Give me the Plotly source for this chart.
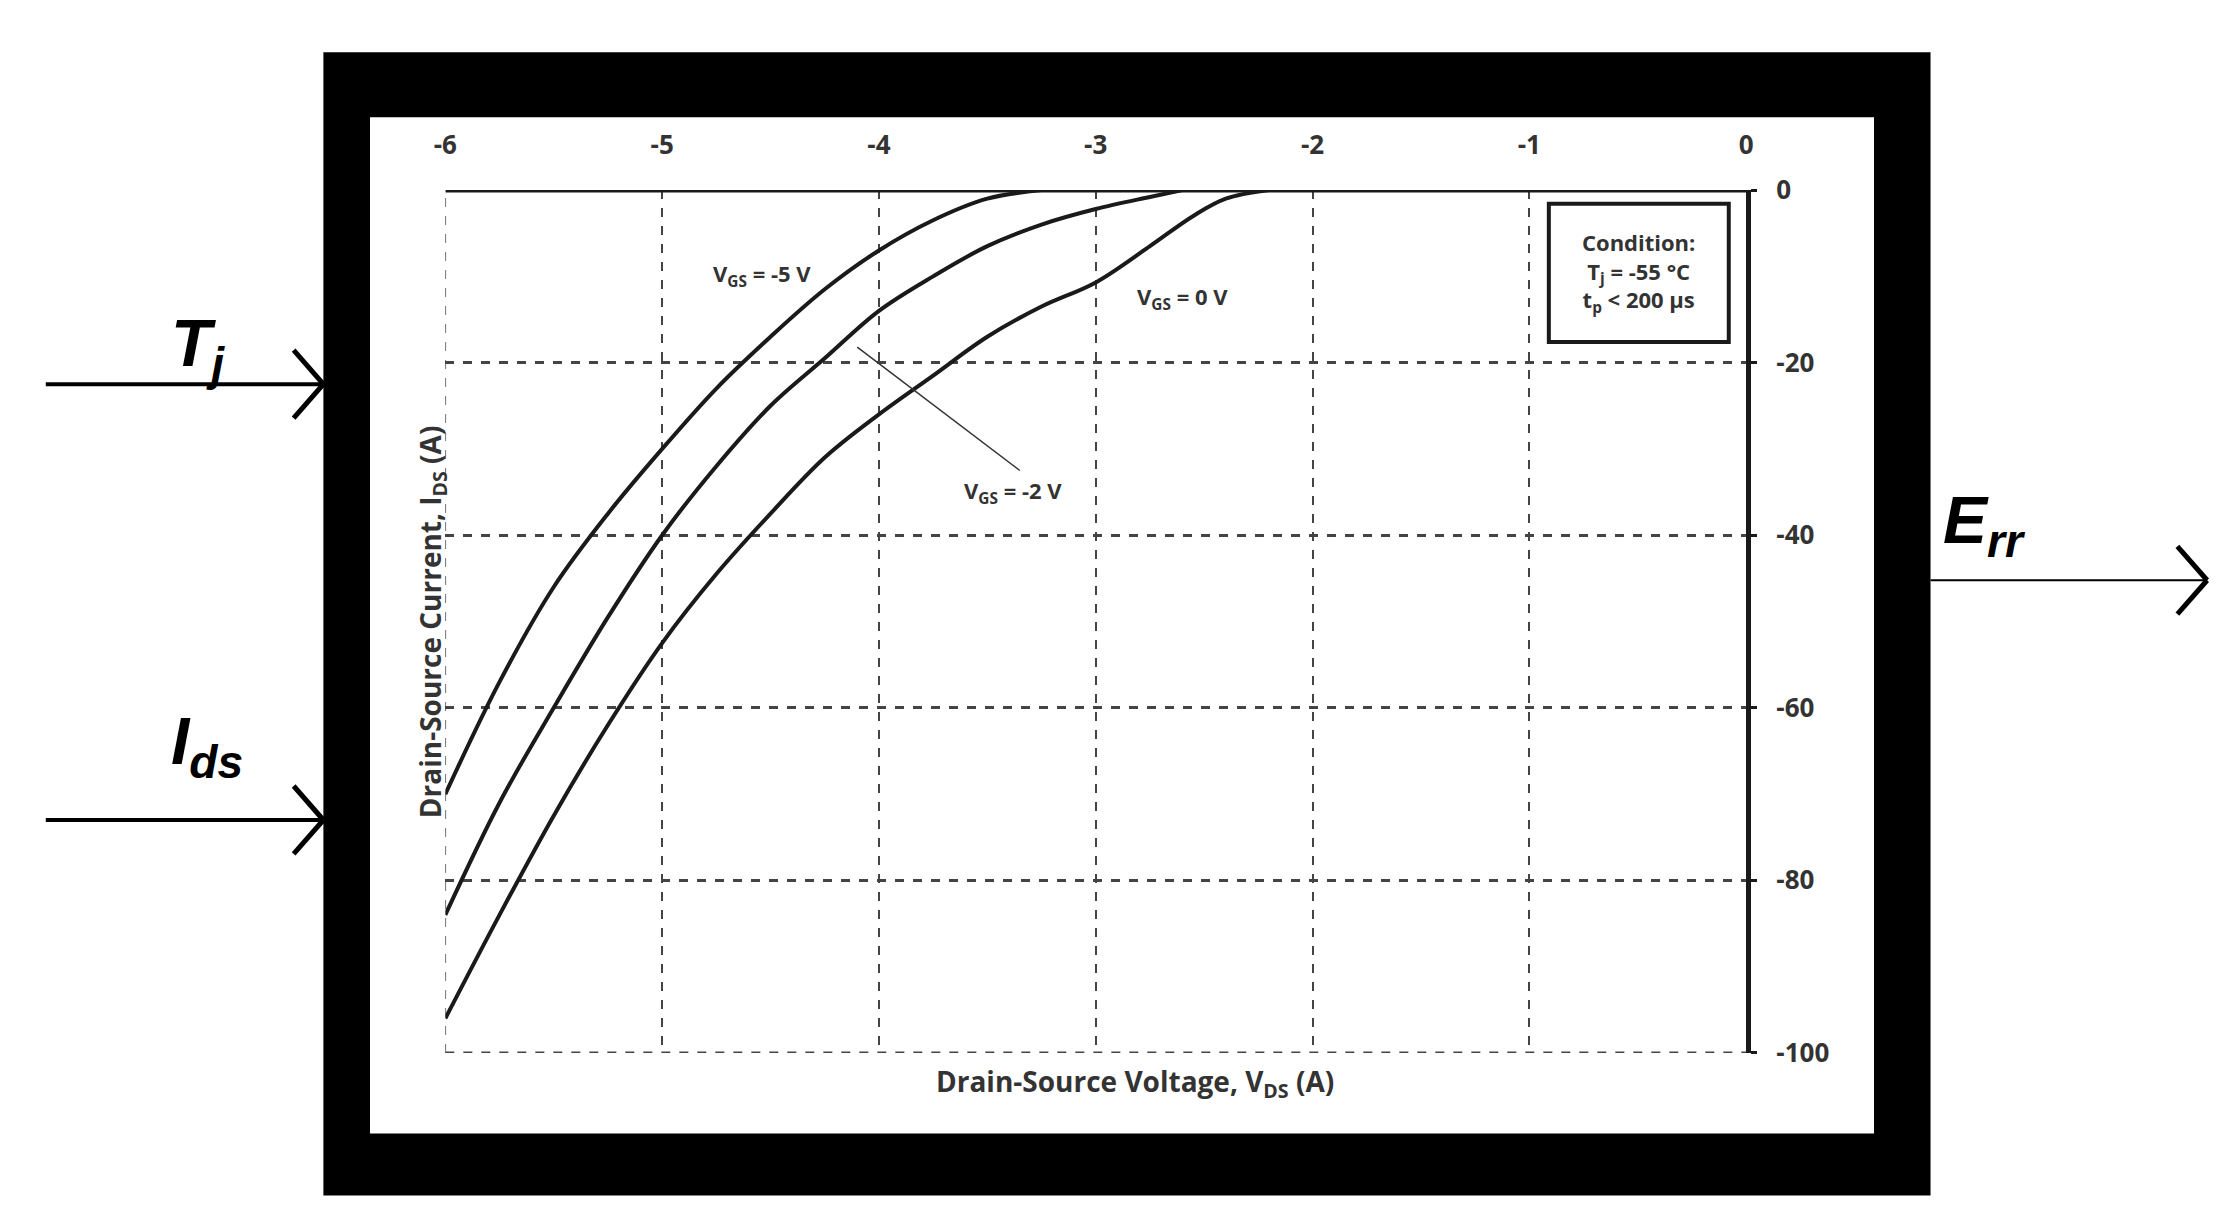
import plotly.graph_objects as go

v_m5 = [-6, -5.75, -5.5, -5.25, -5, -4.75, -4.5, -4.25, -4, -3.75, -3.5, -3.25]
i_m5 = [-70, -57, -46, -37.5, -30, -23, -17, -11.5, -7, -3.5, -1, 0]
v_m2 = [-6, -5.75, -5.5, -5.25, -5, -4.75, -4.5, -4.25, -4, -3.75, -3.5, -3.25, -3, -2.75, -2.6]
i_m2 = [-84, -71, -60, -49.5, -40, -32, -25, -19.5, -14, -10, -6.5, -4, -2.2, -0.8, 0]
v_0 = [-6, -5.75, -5.5, -5.25, -5, -4.75, -4.5, -4.25, -4, -3.75, -3.5, -3.25, -3, -2.75, -2.55, -2.4, -2.2]
i_0 = [-96, -84, -72.5, -62, -52.5, -44.5, -37.5, -31, -26, -21.5, -17, -13.5, -10.7, -6.5, -3, -1, 0]
x_ticks = [-6, -5, -4, -3, -2, -1, 0]
y_ticks = [0, -20, -40, -60, -80, -100]

W, H = 2223, 1225
def px(x): return x / W
def py(y): return 1 - y / H

FONT = "Open Sans"
fig = go.Figure()
for v, i in [(v_m5, i_m5), (v_m2, i_m2), (v_0, i_0)]:
    fig.add_trace(go.Scatter(x=v, y=i, mode="lines", line=dict(color="#1a1a1a", width=4, shape="spline"),
                             showlegend=False, hoverinfo="skip"))
fig.add_trace(go.Scatter(x=[-6, 0], y=[0, 0], mode="lines", line=dict(color="#1a1a1a", width=5),
                         showlegend=False, hoverinfo="skip"))

shapes = [
    dict(type="rect", xref="paper", yref="paper", x0=px(306), x1=px(1927), y0=py(1204), y1=py(26),
         fillcolor="black", line=dict(width=0), layer="below"),
    dict(type="rect", xref="paper", yref="paper", x0=px(353), x1=px(1870), y0=py(1140), y1=py(93),
         fillcolor="white", line=dict(width=0), layer="below"),
    dict(type="line", xref="x", yref="y", x0=-6, x1=-6, y0=-100, y1=0,
         line=dict(color="#444", width=1.5, dash="dash")),
    dict(type="line", xref="x", yref="y", x0=-6, x1=0, y0=-100, y1=-100,
         line=dict(color="#444", width=3, dash="dash")),
    dict(type="rect", xref="x", yref="y", x0=-0.91, x1=-0.08, y0=-17.6, y1=-1.6,
         fillcolor="white", line=dict(color="#1a1a1a", width=4)),
    dict(type="line", xref="x", yref="y", x0=-3.35, y0=-32.5, x1=-4.1, y1=-18.2,
         line=dict(color="#333", width=1.5)),
]
arrows = [(26, 306, 368), (26, 306, 817), (1927, 2206, 570)]
for x0, x1, y in arrows:
    shapes.append(dict(type="line", xref="paper", yref="paper", x0=px(x0), x1=px(x1), y0=py(y), y1=py(y),
                       line=dict(color="black", width=4 if x0 < 100 else 2)))
    shapes.append(dict(type="line", xref="paper", yref="paper", x0=px(x1 - 30), x1=px(x1), y0=py(y - 35), y1=py(y),
                       line=dict(color="black", width=5)))
    shapes.append(dict(type="line", xref="paper", yref="paper", x0=px(x1 - 30), x1=px(x1), y0=py(y + 35), y1=py(y),
                       line=dict(color="black", width=5)))

ann = [
    dict(x=-4.54, y=-9.9, text="<b>V<sub>GS</sub> = -5 V</b>", showarrow=False, xref="x", yref="y",
         font=dict(size=22, family=FONT, color="#333")),
    dict(x=-2.6, y=-12.5, text="<b>V<sub>GS</sub> = 0 V</b>", showarrow=False, xref="x", yref="y",
         font=dict(size=22, family=FONT, color="#333")),
    dict(x=-3.38, y=-35, text="<b>V<sub>GS</sub> = -2 V</b>", showarrow=False, xref="x", yref="y",
         font=dict(size=22, family=FONT, color="#333")),
    dict(x=-0.495, y=-9.6, text="<b>Condition:</b><br><b>T<sub>j</sub> = -55 °C</b><br><b>t<sub>p</sub> &lt; 200 µs</b>",
         showarrow=False, xref="x", yref="y", font=dict(size=22, family=FONT, color="#333")),
    dict(x=px(392), y=0.5, xref="paper", yref="paper", text="<b>Drain-Source Current, I<sub>DS</sub> (A)</b>",
         textangle=-90, showarrow=False, font=dict(size=28, family=FONT, color="#333")),
    dict(x=px(1125), y=py(1112), xref="paper", yref="paper", text="<b>Drain-Source Voltage, V<sub>DS</sub> (A)</b>",
         showarrow=False, font=dict(size=28, family=FONT, color="#333")),
    dict(x=px(150), y=py(285), xref="paper", yref="paper", text="<b><i>T<sub>j</sub></i></b>",
         showarrow=False, font=dict(size=66, family="Liberation Sans", color="black")),
    dict(x=px(150), y=py(741), xref="paper", yref="paper", text="<b><i>I<sub>ds</sub></i></b>",
         showarrow=False, font=dict(size=66, family="Liberation Sans", color="black")),
    dict(x=px(2025), y=py(513), xref="paper", yref="paper", text="<b><i>E<sub>rr</sub></i></b>",
         showarrow=False, font=dict(size=66, family="Liberation Sans", color="black")),
]

fig.update_layout(
    width=W, height=H, margin=dict(l=0, r=0, t=0, b=0),
    paper_bgcolor="white", plot_bgcolor="rgba(0,0,0,0)",
    shapes=shapes, annotations=ann,
    xaxis=dict(domain=[px(429), px(1741)], range=[-6, 0], side="top", tickvals=x_ticks,
               ticktext=[str(t) for t in x_ticks], showgrid=True, gridcolor="#444", gridwidth=1.5,
               griddash="dash", zeroline=False, showline=False, ticks="", ticklabelstandoff=30,
               tickfont=dict(size=26, family=FONT, color="#333", weight="bold")),
    yaxis=dict(domain=[py(1057), py(168)], range=[-100, 0], side="right", tickvals=y_ticks,
               ticktext=[str(t) for t in y_ticks], showgrid=True, gridcolor="#444", gridwidth=3,
               griddash="dash", zeroline=False, showline=True, linecolor="#1a1a1a", linewidth=5,
               ticks="outside", ticklen=6, tickwidth=3, tickcolor="#1a1a1a", ticklabelstandoff=14,
               tickfont=dict(size=26, family=FONT, color="#333", weight="bold")),
)
fig.write_html("out.html")
